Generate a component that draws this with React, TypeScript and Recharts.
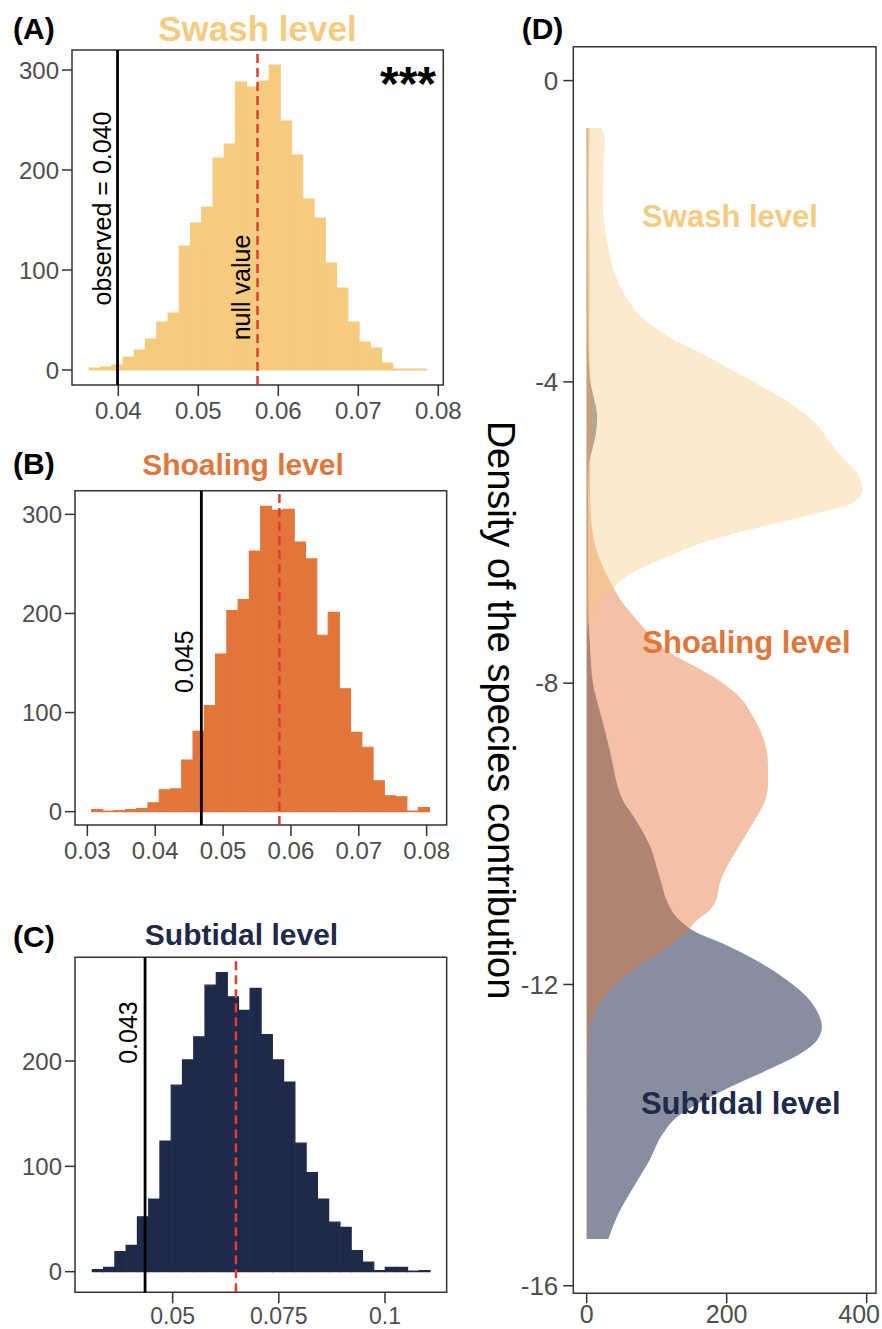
import React from "react"
import { BarChart, Bar, XAxis, YAxis, ReferenceLine, ReferenceArea, ComposedChart, Area } from "recharts"

const FONT = '"Liberation Sans", Arial, Helvetica, sans-serif'
const SWASH = "#F6CB7F"
const SHOALING = "#E2763A"
const SUBTIDAL = "#1F2A4B"
const NULL_RED = "#E33B2E"
const AXIS = "#333333"
const TICK_TEXT = "#4D4D4D"

// (A) swash level - null model histogram
const swashBins = [
  0.03707, 0.03848, 0.03989, 0.04129, 0.0427, 0.0441, 0.04551, 0.04692, 0.04832, 0.04973,
  0.05113, 0.05254, 0.05395, 0.05535, 0.05676, 0.05816, 0.05957, 0.06098, 0.06238, 0.06379,
  0.06519, 0.0666, 0.06801, 0.06941, 0.07082, 0.07222, 0.07363, 0.07504, 0.07644, 0.07785,
]
const swashCounts = [
  2, 3, 5, 13, 20, 31, 48, 57, 124, 147, 163, 212, 226, 288, 283, 289, 305, 249, 215, 171,
  152, 107, 82, 48, 28, 22, 7, 1, 1, 1,
]
const swashObserved = 0.0399
const swashNullValue = 0.0574

// (B) shoaling level
const shoalingBins = [
  0.03147, 0.03313, 0.03479, 0.03645, 0.03811, 0.03977, 0.04143, 0.04309, 0.04475, 0.04641,
  0.04807, 0.04973, 0.05139, 0.05305, 0.05471, 0.05637, 0.05803, 0.05969, 0.06135, 0.06301,
  0.06467, 0.06633, 0.06799, 0.06965, 0.07131, 0.07297, 0.07463, 0.07629, 0.07795, 0.07961,
]
const shoalingCounts = [
  2, 0.5, 1, 2, 3, 9, 22, 23, 52, 81, 107, 159, 203, 214, 263, 308, 304, 305, 272, 255,
  178, 201, 124, 80, 65, 31, 16, 15, 0.5, 4,
]
const shoalingObserved = 0.0468
const shoalingNullValue = 0.0583

// (C) subtidal level
const subtidalBins = [
  0.03241, 0.03507, 0.03772, 0.04037, 0.04303, 0.04568, 0.04833, 0.05099, 0.05364, 0.05629,
  0.05894, 0.0616, 0.06425, 0.0669, 0.06956, 0.07221, 0.07486, 0.07752, 0.08017, 0.08282,
  0.08547, 0.08813, 0.09078, 0.09343, 0.09609, 0.09874, 0.10139, 0.10405, 0.1067, 0.10935,
]
const subtidalCounts = [
  2, 4, 19, 25, 52, 69, 124, 177, 201, 223, 272, 284, 261, 248, 269, 225, 201, 180, 122, 94,
  69, 47, 42, 20, 9, 1, 4, 4, 0.5, 1,
]
const subtidalObserved = 0.0435
const subtidalNullValue = 0.0649

// (D) density of the species contribution along depth
const swashDepth = [
  -0.63, -0.79, -1.14, -1.58, -2.12, -2.56, -2.91, -3.18, -3.4, -3.62, -3.84, -4.06, -4.33,
  -4.59, -4.77, -4.99, -5.21, -5.44, -5.61, -5.75, -5.88, -6.01, -6.14, -6.28, -6.41, -6.54,
  -6.67, -6.74, -6.9, -7.1, -7.35,
]
const swashDensity = [
  21, 26, 24, 23, 29, 40, 59, 83, 117, 164, 207, 250, 298, 331, 345, 364, 386, 394, 379, 326,
  269, 212, 164, 126, 93, 64, 45, 38, 18, 6, 0,
]
const shoalingDepth = [
  -0.63, -1.5, -2.5, -3.5, -4.2, -4.6, -5.0, -5.5, -5.88, -6.23, -6.59, -6.76, -6.94, -7.12,
  -7.29, -7.45, -7.6, -7.78, -8.0, -8.22, -8.45, -8.67, -8.89, -9.11, -9.33, -9.56, -9.77,
  -9.99, -10.22, -10.44, -10.66, -10.88, -11.01, -11.15, -11.3, -11.55, -11.77, -11.99,
  -12.21, -12.43, -12.65, -13.2, -14.0, -14.7, -15.38,
]
const shoalingDensity = [
  4, 3, 4, 4, 6, 7, 5, 5, 7, 14, 30, 40, 52, 68, 84, 100, 120, 155, 195, 222, 238, 250, 257,
  259, 259, 255, 243, 229, 214, 200, 190, 185, 176, 157, 143, 109, 71, 43, 21, 9, 3, 1.5, 1,
  1, 1,
]
const subtidalDepth = [
  -0.63, -2.0, -3.5, -3.98, -4.2, -4.46, -4.7, -4.9, -5.1, -5.5, -6.5, -7.2, -7.56, -8.0,
  -8.45, -8.89, -9.11, -9.33, -9.56, -9.77, -9.99, -10.22, -10.44, -10.66, -10.88, -11.15,
  -11.3, -11.46, -11.66, -11.94, -12.16, -12.39, -12.56, -12.74, -12.92, -13.12, -13.36,
  -13.54, -13.76, -13.98, -14.33, -14.69, -15.09, -15.38,
]
const subtidalDensity = [
  1, 1, 2, 5, 10, 15, 13, 8, 3, 2, 2, 3, 5, 9, 21, 33, 38, 43, 52, 67, 81, 93, 100, 107, 114,
  133, 155, 195, 238, 286, 314, 331, 336, 329, 305, 262, 205, 167, 129, 109, 90, 67, 43, 31,
]

const pick = (depths: number[], values: number[], d: number) => {
  const i = depths.indexOf(d)
  return i >= 0 ? values[i] : null
}

const densityRows = Array.from(new Set([...swashDepth, ...shoalingDepth, ...subtidalDepth]))
  .sort((a, b) => b - a)
  .map((depth) => ({
    depth,
    swash: pick(swashDepth, swashDensity, depth),
    shoaling: pick(shoalingDepth, shoalingDensity, depth),
    subtidal: pick(subtidalDepth, subtidalDensity, depth),
  }))

function SideLabel(props: any) {
  const { viewBox, text, gap, cy } = props
  if (!viewBox) return null
  const x = viewBox.x - gap
  return (
    <text
      x={x}
      y={cy}
      transform={`rotate(-90 ${x} ${cy})`}
      textAnchor="middle"
      fontFamily={FONT}
      fontSize={25}
      fill="#000"
    >
      {text}
    </text>
  )
}

type HistProps = {
  bins: number[]
  counts: number[]
  color: string
  xDomain: [number, number]
  yDomain: [number, number]
  xTicks: number[]
  yTicks: number[]
  observed: number
  nullValue: number
  obsText: string
  obsGap: number
  obsY: number
  nullText?: string
  nullGap?: number
  nullY?: number
  width: number
  height: number
  margin: { top: number; right: number; bottom: number; left: number }
  yAxisWidth: number
  xAxisHeight: number
  xTickFont?: number
  xTickMargin?: number
}

function NullHistogram(p: HistProps) {
  const data = p.bins.map((x, i) => ({ x, count: p.counts[i] }))
  const tick = { fill: TICK_TEXT, fontSize: 24, fontFamily: FONT }
  return (
    <BarChart width={p.width} height={p.height} data={data} margin={p.margin} barCategoryGap={0} barGap={0}>
      <XAxis
        dataKey="x"
        type="number"
        domain={p.xDomain}
        ticks={p.xTicks}
        interval={0}
        allowDataOverflow
        axisLine={false}
        tickLine={{ stroke: AXIS, strokeWidth: 1.5 }}
        tickSize={11}
        tickMargin={p.xTickMargin ?? 6}
        tick={{ ...tick, fontSize: p.xTickFont ?? 24 }}
        height={p.xAxisHeight}
      />
      <YAxis
        type="number"
        domain={p.yDomain}
        ticks={p.yTicks}
        interval={0}
        allowDataOverflow
        axisLine={false}
        tickLine={{ stroke: AXIS, strokeWidth: 1.5 }}
        tickSize={10}
        tickMargin={3}
        tick={tick}
        width={p.yAxisWidth}
      />
      <Bar dataKey="count" fill={p.color} stroke={p.color} strokeWidth={1.2} isAnimationActive={false} />
      <ReferenceArea y1={p.yDomain[0]} y2={p.yDomain[1]} fill="none" stroke={AXIS} strokeWidth={1.5} />
      <ReferenceLine
        x={p.observed}
        stroke="#000"
        strokeWidth={2.8}
        label={<SideLabel text={p.obsText} gap={p.obsGap} cy={p.obsY} />}
      />
      <ReferenceLine
        x={p.nullValue}
        stroke={NULL_RED}
        strokeWidth={2.5}
        strokeDasharray="9 5"
        label={p.nullText ? <SideLabel text={p.nullText} gap={p.nullGap} cy={p.nullY} /> : undefined}
      />
    </BarChart>
  )
}

const D_WIDTH = 412

// keeps the last x tick label inside the figure, as in the original
function DensityXTick(props: any) {
  const { x, y, payload } = props
  const last = payload.value === 400
  return (
    <text
      x={last ? D_WIDTH - 2 : x}
      y={y}
      dy="0.71em"
      textAnchor={last ? "end" : "middle"}
      fill={TICK_TEXT}
      fontSize={25}
      fontFamily={FONT}
    >
      {payload.value}
    </text>
  )
}

function DensityPanel() {
  const tick = { fill: TICK_TEXT, fontSize: 26, fontFamily: FONT }
  return (
    <ComposedChart
      width={D_WIDTH}
      height={1329}
      layout="vertical"
      data={densityRows}
      margin={{ top: 46.7, right: 6, bottom: 0, left: 0 }}
    >
      <XAxis
        type="number"
        domain={[-19.1, 413.3]}
        ticks={[0, 200, 400]}
        interval={0}
        allowDataOverflow
        axisLine={false}
        tickLine={{ stroke: AXIS, strokeWidth: 1.5 }}
        tickSize={10}
        tickMargin={2}
        tick={<DensityXTick />}
        height={35.7}
      />
      <YAxis
        type="number"
        dataKey="depth"
        domain={[-16.1, 0.45]}
        ticks={[0, -4, -8, -12, -16]}
        reversed
        interval={0}
        allowDataOverflow
        axisLine={false}
        tickLine={{ stroke: AXIS, strokeWidth: 1.5 }}
        tickSize={10}
        tickMargin={5}
        tick={tick}
        width={103.3}
      />
      <Area
        dataKey="subtidal"
        type="monotone"
        baseValue={0}
        connectNulls
        stroke="none"
        fill={SUBTIDAL}
        fillOpacity={0.53}
        dot={false}
        activeDot={false}
        isAnimationActive={false}
      />
      <Area
        dataKey="shoaling"
        type="monotone"
        baseValue={0}
        connectNulls
        stroke="none"
        fill={SHOALING}
        fillOpacity={0.45}
        dot={false}
        activeDot={false}
        isAnimationActive={false}
      />
      <Area
        dataKey="swash"
        type="monotone"
        baseValue={0}
        connectNulls
        stroke="none"
        fill={SWASH}
        fillOpacity={0.4}
        dot={false}
        activeDot={false}
        isAnimationActive={false}
      />
      <ReferenceArea y1={-16.1} y2={0.45} fill="none" stroke={AXIS} strokeWidth={1.5} />
    </ComposedChart>
  )
}

export default function App() {
  return (
    <div style={{ position: "absolute", left: 0, top: 0, width: 882, height: 1329, background: "#fff" }}>
      <div style={{ position: "absolute", left: 0, top: 0 }}>
        <NullHistogram
          bins={swashBins}
          counts={swashCounts}
          color={SWASH}
          xDomain={[0.03421, 0.08062]}
          yDomain={[-15, 320]}
          xTicks={[0.04, 0.05, 0.06, 0.07, 0.08]}
          yTicks={[0, 100, 200, 300]}
          observed={swashObserved}
          nullValue={swashNullValue}
          obsText="observed = 0.040"
          obsGap={6.5}
          obsY={208.5}
          nullText="null value"
          nullGap={7.5}
          nullY={287.5}
          width={470}
          height={440}
          margin={{ top: 50, right: 26.7, bottom: 15, left: 0 }}
          yAxisWidth={72}
          xAxisHeight={40}
        />
      </div>
      <div style={{ position: "absolute", left: 0, top: 440 }}>
        <NullHistogram
          bins={shoalingBins}
          counts={shoalingCounts}
          color={SHOALING}
          xDomain={[0.02818, 0.08295]}
          yDomain={[-13.45, 323.9]}
          xTicks={[0.03, 0.04, 0.05, 0.06, 0.07, 0.08]}
          yTicks={[0, 100, 200, 300]}
          observed={shoalingObserved}
          nullValue={shoalingNullValue}
          obsText="0.045"
          obsGap={8.5}
          obsY={221.7}
          width={470}
          height={430}
          margin={{ top: 50.67, right: 23.33, bottom: 5, left: 0 }}
          yAxisWidth={75}
          xAxisHeight={40}
        />
      </div>
      <div style={{ position: "absolute", left: 0, top: 880 }}>
        <NullHistogram
          bins={subtidalBins}
          counts={subtidalCounts}
          color={SUBTIDAL}
          xDomain={[0.027, 0.11453]}
          yDomain={[-19.6, 298.4]}
          xTicks={[0.05, 0.075, 0.1]}
          yTicks={[0, 100, 200]}
          observed={subtidalObserved}
          nullValue={subtidalNullValue}
          obsText="0.043"
          obsGap={8}
          obsY={152.5}
          width={470}
          height={449}
          margin={{ top: 77.33, right: 23.33, bottom: 0, left: 0 }}
          yAxisWidth={75}
          xAxisHeight={36.67}
          xTickFont={23}
          xTickMargin={4}
        />
      </div>
      <div style={{ position: "absolute", left: 470, top: 0 }}>
        <DensityPanel />
      </div>
      <svg
        width={882}
        height={1329}
        style={{ position: "absolute", left: 0, top: 0, pointerEvents: "none" }}
        fontFamily={FONT}
      >
        <text x={13} y={39} fontSize={30} fontWeight="bold" fill="#000">(A)</text>
        <text x={257.5} y={40.5} fontSize={35} fontWeight="bold" fill={SWASH} textAnchor="middle">
          Swash level
        </text>
        <text x={436} y={100} fontSize={48} fontWeight="bold" fill="#000" textAnchor="end">***</text>
        <text x={13} y={473.5} fontSize={30} fontWeight="bold" fill="#000">(B)</text>
        <text x={243} y={475} fontSize={30} fontWeight="bold" fill={SHOALING} textAnchor="middle">
          Shoaling level
        </text>
        <text x={13} y={946.5} fontSize={30} fontWeight="bold" fill="#000">(C)</text>
        <text x={241.5} y={945} fontSize={30} fontWeight="bold" fill={SUBTIDAL} textAnchor="middle">
          Subtidal level
        </text>
        <text x={521.7} y={39} fontSize={30} fontWeight="bold" fill="#000">(D)</text>
        <text x={730} y={226.7} fontSize={31} fontWeight="bold" fill={SWASH} textAnchor="middle">
          Swash level
        </text>
        <text x={746.5} y={653.3} fontSize={31} fontWeight="bold" fill={SHOALING} textAnchor="middle">
          Shoaling level
        </text>
        <text x={740.8} y={1114} fontSize={31} fontWeight="bold" fill={SUBTIDAL} textAnchor="middle">
          Subtidal level
        </text>
        <text transform="translate(488 710) rotate(90)" textAnchor="middle" fontSize={38} fill="#000">
          Density of the species contribution
        </text>
      </svg>
    </div>
  )
}
